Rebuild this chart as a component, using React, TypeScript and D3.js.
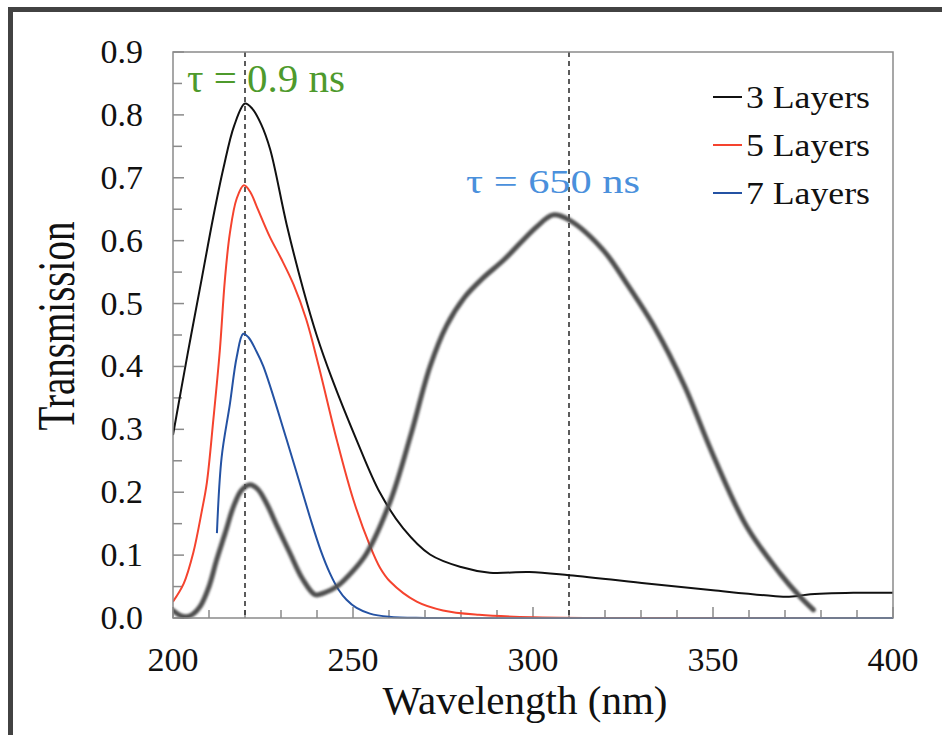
import * as d3 from 'd3';
import { useEffect, useRef } from 'react';

// [wavelength nm, transmission]
const layers3: [number, number][] = [
    [200, 0.291], [204, 0.418], [208, 0.54], [211.2, 0.638], [214, 0.715], [217, 0.783], [220, 0.818],
    [222, 0.81], [224.5, 0.785], [227, 0.745], [231.6, 0.625], [236.2, 0.522], [240, 0.448], [244, 0.383],
    [251, 0.283], [257.5, 0.199], [263.9, 0.143], [271.4, 0.101], [280, 0.081], [288, 0.072],
    [299, 0.073], [310, 0.068], [331.6, 0.055], [350, 0.044], [366.7, 0.035], [372, 0.034],
    [376, 0.037], [389, 0.04], [400, 0.04]
];
const layers5: [number, number][] = [
    [200, 0.026], [203, 0.055], [205.6, 0.103], [208, 0.17], [209.4, 0.215], [211.2, 0.315],
    [213, 0.425], [214.4, 0.537], [215.8, 0.612], [217.7, 0.667], [219.7, 0.688], [221.5, 0.677],
    [223.2, 0.655], [226.9, 0.606], [230, 0.572], [233.5, 0.53], [237, 0.475], [240.5, 0.4],
    [245.5, 0.283], [250.1, 0.188], [254.7, 0.115], [257.5, 0.08], [260.3, 0.058], [267.7, 0.026],
    [275, 0.012], [285, 0.005], [300, 0.001], [320, 0], [400, 0]
];
const layers7: [number, number][] = [
    [212.2, 0.135], [213.5, 0.255], [215.8, 0.34], [217.7, 0.415], [219.5, 0.452], [221, 0.446],
    [223, 0.426], [225.1, 0.4], [231.6, 0.283], [238, 0.161], [241, 0.108], [243.6, 0.071],
    [246, 0.045], [248.2, 0.029], [251, 0.016], [254.7, 0.007], [260, 0.002], [270, 0], [400, 0]
];
const emission: [number, number][] = [
    [200, 0.012], [202, 0.004], [203.8, 0.002], [205.5, 0.006], [207.5, 0.018], [210, 0.05],
    [212.1, 0.092], [214.5, 0.135], [216.8, 0.177], [219, 0.203], [221.4, 0.212], [223.5, 0.205],
    [226, 0.182], [229, 0.145], [232.5, 0.103], [236, 0.062], [239.5, 0.037], [242, 0.04],
    [245.5, 0.05], [250, 0.075], [253.8, 0.103], [260.5, 0.188], [266, 0.29], [271.4, 0.4],
    [276, 0.465], [281, 0.51], [286, 0.54], [292, 0.57], [301, 0.622], [305.6, 0.641], [310, 0.633],
    [319.5, 0.585], [326, 0.532], [334, 0.46], [342, 0.37], [350.1, 0.258], [359.4, 0.145],
    [368.6, 0.071], [374, 0.035], [377.9, 0.013]
];

const seriesNames = ['3 Layers', '5 Layers', '7 Layers'];
const seriesColors = ['#111111', '#f5432e', '#2452a3'];
const yTicks = [0, 0.1, 0.2, 0.3, 0.4, 0.5, 0.6, 0.7, 0.8, 0.9];
const xTicks = [200, 250, 300, 350, 400];
const dashedAt = [220, 310];

function App() {
    const svgRef = useRef<SVGSVGElement | null>(null);

    useEffect(() => {
        if (!svgRef.current) return;
        const svg = d3.select(svgRef.current);
        svg.selectAll('*').remove();

        const margin = { top: 52, left: 173 };
        const width = 720;
        const height = 566;
        const font = '"Liberation Serif", "Times New Roman", serif';

        // outer frame
        svg.append('rect')
            .attr('x', 10.5).attr('y', 9.5)
            .attr('width', 1000).attr('height', 1000)
            .attr('fill', 'white')
            .attr('stroke', '#424242')
            .attr('stroke-width', 5);

        const defs = svg.append('defs');
        defs.append('filter')
            .attr('id', 'blurry')
            .attr('x', '-5%').attr('y', '-5%').attr('width', '110%').attr('height', '110%')
            .append('feGaussianBlur')
            .attr('stdDeviation', 1.3);
        defs.append('clipPath').attr('id', 'plotClip')
            .append('rect').attr('x', 0).attr('y', -5).attr('width', width).attr('height', height + 6);

        const g = svg.append('g').attr('transform', `translate(${margin.left},${margin.top})`);

        const x = d3.scaleLinear().domain([200, 400]).range([0, width]);
        const y = d3.scaleLinear().domain([0, 0.9]).range([height, 0]);

        const axisColor = '#8a8a8a';

        // ticks
        const yMinor = d3.range(0, 0.9001, 0.05);
        g.selectAll('.ytick')
            .data(yMinor)
            .enter().append('line')
            .attr('x1', 0)
            .attr('x2', (d, i) => (i % 2 === 0 ? 11 : 9))
            .attr('y1', d => y(d)).attr('y2', d => y(d))
            .attr('stroke', axisColor).attr('stroke-width', 1.5);

        const xMinor = d3.range(200, 401, 10);
        g.selectAll('.xtick')
            .data(xMinor)
            .enter().append('line')
            .attr('x1', d => x(d)).attr('x2', d => x(d))
            .attr('y1', height)
            .attr('y2', d => height - (d % 50 === 0 ? 11 : 8))
            .attr('stroke', axisColor).attr('stroke-width', 1.5);

        // dashed guides
        g.selectAll('.guide')
            .data(dashedAt)
            .enter().append('line')
            .attr('x1', d => x(d)).attr('x2', d => x(d))
            .attr('y1', 0).attr('y2', height)
            .attr('stroke', '#333')
            .attr('stroke-width', 1.6)
            .attr('stroke-dasharray', '5,4');

        const line = d3.line<[number, number]>()
            .x(d => x(d[0]))
            .y(d => y(d[1]))
            .curve(d3.curveCatmullRom.alpha(0.5));

        const plot = g.append('g').attr('clip-path', 'url(#plotClip)');

        [layers3, layers5, layers7].forEach((s, i) => {
            plot.append('path')
                .datum(s)
                .attr('d', line)
                .attr('fill', 'none')
                .attr('stroke', seriesColors[i])
                .attr('stroke-width', 2);
        });

        plot.append('path')
            .datum(emission)
            .attr('d', line)
            .attr('fill', 'none')
            .attr('stroke', '#505050')
            .attr('stroke-width', 5)
            .attr('stroke-linecap', 'round')
            .attr('filter', 'url(#blurry)');

        // frame
        g.append('rect')
            .attr('x', 0).attr('y', 0)
            .attr('width', width).attr('height', height)
            .attr('fill', 'none')
            .attr('stroke', axisColor)
            .attr('stroke-width', 1.5);

        // tick labels
        g.selectAll('.ylabel')
            .data(yTicks)
            .enter().append('text')
            .attr('x', -30)
            .attr('y', d => y(d) + 11)
            .attr('text-anchor', 'end')
            .attr('font-family', font)
            .attr('font-size', 34)
            .attr('fill', '#111')
            .text(d => d3.format('.1f')(d));

        g.selectAll('.xlabel')
            .data(xTicks)
            .enter().append('text')
            .attr('x', d => x(d))
            .attr('y', height + 53)
            .attr('text-anchor', 'middle')
            .attr('font-family', font)
            .attr('font-size', 34)
            .attr('fill', '#111')
            .text(d => d);

        // axis titles
        svg.append('text')
            .attr('x', 525)
            .attr('y', 714)
            .attr('text-anchor', 'middle')
            .attr('font-family', font)
            .attr('font-size', 39)
            .attr('textLength', 285)
            .attr('lengthAdjust', 'spacingAndGlyphs')
            .attr('fill', '#111')
            .text('Wavelength (nm)');

        svg.append('text')
            .attr('transform', 'translate(74,326) rotate(-90) scale(1,1.35)')
            .attr('text-anchor', 'middle')
            .attr('font-family', font)
            .attr('font-size', 39)
            .attr('fill', '#111')
            .text('Transmission');

        // legend
        seriesNames.forEach((name, i) => {
            const ly = 97 + i * 48;
            svg.append('line')
                .attr('x1', 713).attr('x2', 742)
                .attr('y1', ly).attr('y2', ly)
                .attr('stroke', seriesColors[i])
                .attr('stroke-width', 2);
            svg.append('text')
                .attr('x', 746)
                .attr('y', ly + 11)
                .attr('font-family', font)
                .attr('font-size', 31)
                .attr('textLength', 124)
                .attr('lengthAdjust', 'spacingAndGlyphs')
                .attr('fill', '#111')
                .text(name);
        });

        // lifetime labels
        svg.append('text')
            .attr('x', 187)
            .attr('y', 92)
            .attr('font-family', font)
            .attr('font-size', 41)
            .attr('fill', '#4e9a2c')
            .text('τ = 0.9 ns');

        svg.append('text')
            .attr('x', 466)
            .attr('y', 193)
            .attr('font-family', font)
            .attr('font-size', 34)
            .attr('textLength', 174)
            .attr('lengthAdjust', 'spacingAndGlyphs')
            .attr('fill', '#4a90dc')
            .text('τ = 650 ns');

        return () => {
            d3.select(svgRef.current).selectAll('*').remove();
        };
    }, []);

    return (
        <svg ref={svgRef} width={942} height={735}
            style={{ position: 'absolute', left: 0, top: 0, background: 'white' }} />
    );
}

export default App;
